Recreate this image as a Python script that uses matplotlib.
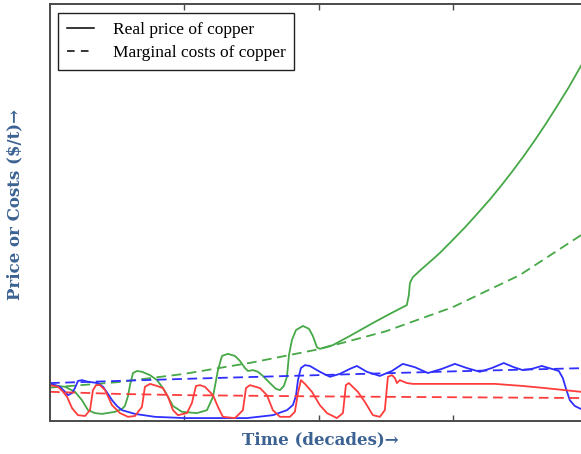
import matplotlib
matplotlib.use("Agg")
import matplotlib.pyplot as plt

# Time axis in years (ticks every decade), price/cost on a relative scale (0-100)
green_price_t = [0, 0.6, 1.12, 1.86, 2.38, 2.83, 3.35, 3.87, 4.84, 5.36, 5.58, 5.81, 5.96, 6.18, 6.48,
                 6.85, 7.45, 7.97, 8.41, 8.79, 9.16, 9.83, 10.95, 11.69, 12.14, 12.51, 12.81, 13.25,
                 13.78, 14.15, 14.52, 14.74, 15.12, 15.49, 15.86, 16.38, 16.83, 17.13, 17.42, 17.65,
                 17.8, 18.02, 18.32, 18.84, 19.29, 19.58, 19.88, 20.1, 21.07, 22.34, 24.05, 25.32,
                 26.58, 26.73, 26.81, 27.03, 27.6, 28.52, 29.04, 29.78, 30.9, 31.8, 32.76, 33.6,
                 34.47, 35.3, 36.11, 36.9, 37.75, 38.6, 39.54, 40.21]
green_price_v = [8.9, 8.4, 8.2, 7.0, 5.0, 2.6, 1.9, 1.7, 2.2, 2.9, 3.6, 6.0, 8.6, 11.5, 12.0,
                 11.8, 11.0, 9.8, 7.9, 5.8, 3.6, 2.2, 1.9, 2.6, 5.8, 12.2, 15.6, 16.1,
                 15.6, 14.4, 12.7, 12.0, 12.2, 11.8, 10.8, 9.1, 7.7, 7.4, 8.4, 10.6,
                 15.8, 19.4, 21.8, 22.8, 22.1, 20.4, 17.7, 17.3, 18.2, 20.4, 23.5, 25.7,
                 27.8, 30.2, 33.1, 34.5, 36.2, 38.8, 40.3, 42.7, 46.4, 49.6, 53.1, 56.4,
                 60.0, 63.6, 67.3, 71.1, 75.4, 79.8, 85.1, 89.0]

green_cost_t = [0, 5, 10, 15, 20, 25, 30, 35, 40]
green_cost_v = [8.0, 9.3, 11.3, 14.0, 17.2, 21.5, 27.3, 35.0, 45.5]

blue_price_t = [0, 0.37, 0.74, 1.12, 1.34, 1.64, 1.86, 2.08, 2.38, 2.83, 3.57, 3.95, 4.32, 4.62,
                4.99, 5.36, 6.33, 7.82, 10.05, 14.67, 16.6, 17.65, 18.09, 18.32, 18.47, 18.69,
                18.99, 19.36, 20.1, 20.85, 21.59, 22.34, 22.86, 23.6, 24.57, 25.47, 26.28, 27.18,
                28.15, 29.19, 30.16, 31.05, 32.02, 32.91, 33.8, 34.55, 35.22, 35.89, 36.63, 37.38,
                37.9, 38.2, 38.42, 38.72, 39.09, 39.54, 40.21]
blue_price_v = [8.9, 8.6, 8.2, 7.0, 6.2, 6.7, 7.9, 9.6, 9.8, 9.4, 9.1, 8.2, 6.5, 5.0,
                3.6, 2.6, 1.7, 1.0, 0.7, 0.7, 1.4, 2.6, 3.8, 6.0, 9.8, 12.7,
                13.4, 13.2, 11.8, 10.6, 11.3, 12.5, 13.2, 11.8, 10.8, 12.0, 13.7, 12.9,
                11.5, 12.5, 13.7, 12.7, 11.8, 12.7, 13.9, 12.9, 12.2, 12.5, 13.2, 12.5,
                12.0, 10.3, 7.9, 5.0, 3.6, 2.9, 2.4]

blue_cost_t = [0, 10, 20, 30, 40]
blue_cost_v = [9.1, 10.1, 11.0, 11.9, 12.7]

red_price_t = [0, 0.6, 0.97, 1.27, 1.64, 2.08, 2.61, 2.98, 3.2, 3.43, 3.72, 4.1, 4.62, 5.21, 5.81,
               6.33, 6.85, 7.07, 7.45, 7.97, 8.41, 8.79, 9.16, 9.53, 10.2, 10.57, 10.87, 11.17,
               11.54, 12.14, 12.51, 12.88, 13.78, 14.37, 14.6, 14.89, 15.64, 16.16, 16.6, 17.13,
               17.87, 18.24, 18.47, 18.69, 18.99, 19.51, 20.1, 20.63, 21.37, 21.82, 22.04, 22.26,
               22.93, 23.45, 24.05, 24.57, 24.94, 25.17, 25.47, 25.69, 25.84, 26.06, 26.58, 27.03,
               30.31, 33.13, 35.22, 36.86, 39.54, 40.21]
red_price_v = [8.6, 8.2, 7.0, 5.8, 3.1, 1.4, 1.2, 2.6, 7.4, 8.6, 8.6, 7.4, 3.8, 1.9, 1.0,
               1.2, 3.4, 8.2, 8.9, 8.4, 7.9, 5.8, 2.6, 1.4, 1.9, 4.3, 8.4, 8.6,
               8.2, 6.2, 3.4, 1.0, 0.7, 2.6, 7.9, 8.6, 7.9, 6.2, 2.6, 1.0,
               1.0, 2.2, 6.7, 9.8, 8.9, 7.0, 3.8, 1.9, 0.7, 1.9, 8.6, 9.1,
               7.0, 4.6, 1.4, 1.0, 2.6, 10.6, 11.0, 10.3, 9.1, 9.8, 9.1, 8.9,
               8.9, 8.9, 8.4, 7.9, 7.0, 6.7]

red_cost_t = [0, 5, 10, 20, 30, 40]
red_cost_v = [7.0, 6.5, 6.2, 5.9, 5.7, 5.5]

decade_ticks = [10, 20, 30]

GREEN = "#46a846"
BLUE = "#2f2fff"
RED = "#ff3c3c"
LABEL_BLUE = "#3b6292"
SPINE = "#4a4a4a"

plt.rcParams["lines.scale_dashes"] = False

fig = plt.figure(figsize=(5.81, 4.54), dpi=100)
ax = fig.add_axes([50 / 581, 33 / 454, 537 / 581, 417 / 454])

lw = 1.3
dash = (7, 4)
ax.plot(green_price_t, green_price_v, color=GREEN, lw=lw)
ax.plot(green_cost_t, green_cost_v, color=GREEN, lw=lw, ls="--", dashes=dash)
ax.plot(blue_price_t, blue_price_v, color=BLUE, lw=lw)
ax.plot(blue_cost_t, blue_cost_v, color=BLUE, lw=lw, ls="--", dashes=dash)
ax.plot(red_price_t, red_price_v, color=RED, lw=lw)
ax.plot(red_cost_t, red_cost_v, color=RED, lw=lw, ls="--", dashes=dash)

# Legend entries drawn in black
h1, = ax.plot([], [], color="black", lw=1.1, label="Real price of copper")
h2, = ax.plot([], [], color="black", lw=1.1, ls="--", dashes=(5.5, 4.5), label="Marginal costs of copper")
leg = ax.legend(handles=[h1, h2], loc="upper left", bbox_to_anchor=(8 / 537, 1 - 9 / 417),
                borderaxespad=0, frameon=True, fancybox=False, framealpha=1,
                prop={"family": "Liberation Serif", "size": 12.5},
                handlelength=1.6, handletextpad=1.05, borderpad=0.5, labelspacing=0.4)
leg.get_frame().set_edgecolor("#222222")
leg.get_frame().set_linewidth(1.0)

ax.set_xlim(0, 40)
ax.set_ylim(0, 100)
ax.set_xticks(decade_ticks)
ax.set_yticks([])
ax.tick_params(axis="x", direction="in", length=4, width=1, color=SPINE,
               top=True, bottom=True, labelbottom=False)
for s in ax.spines.values():
    s.set_color(SPINE)
    s.set_linewidth(1.4)

label_font = {"family": ["DejaVu Serif"], "weight": "bold",
              "size": 12, "color": LABEL_BLUE}
xl = ax.set_xlabel("Time (decades)→", fontdict=label_font)
yl = ax.set_ylabel("Price or Costs ($/t)→", fontdict=label_font)
xl.set_verticalalignment("center")
yl.set_verticalalignment("center")
ax.xaxis.set_label_coords((320 - 50) / 537, (421 - 440) / 417)
ax.yaxis.set_label_coords((15 - 50) / 537, (421 - 205) / 417)

fig.savefig("out.png", dpi=100)
